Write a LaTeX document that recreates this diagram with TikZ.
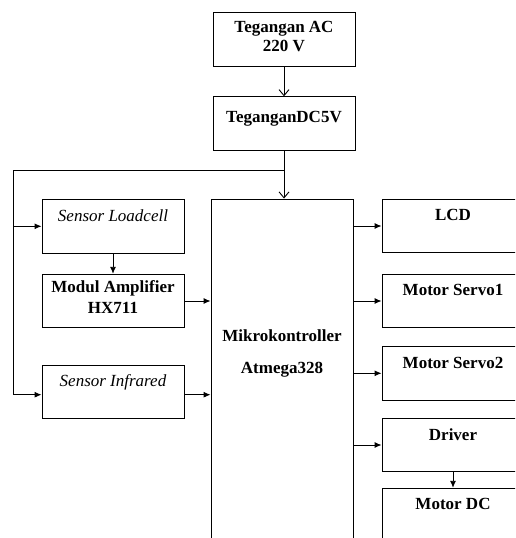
\documentclass[tikz,border=0pt]{standalone}
\usepackage{fontspec}
\setmainfont{Liberation Serif}
\usetikzlibrary{arrows.meta, positioning, calc}
\begin{document}
\begin{tikzpicture}[x=1pt, y=-1pt,
        blok/.style={draw, line width=0.9pt, minimum width=142pt,
            minimum height=53.5pt, inner sep=0pt},
        isi/.style={anchor=north, yshift=-10.5pt, inner sep=0pt, align=center,
            font=\fontsize{17}{18.5}\selectfont\bfseries},
        miring/.style={isi, font=\fontsize{17}{18.5}\selectfont\itshape},
        panah/.style={-{Latex[length=7pt,width=6pt]}, line width=0.9pt},
        buka/.style={-{Straight Barb[length=6pt,width=10pt]}, line width=0.9pt},
    ]
        \useasboundingbox (0,0) rectangle (515,538);
        \clip (0,0) rectangle (515,538);

        % Catu daya
        \node[blok, label={[isi, yshift=1.5pt]north:Tegangan AC\\220 V}] (ac) at (284, 39.5) {};
        \node[blok, label={[isi, yshift=-4pt]north:TeganganDC5V}] (dc) at (284, 123.5) {};

        % Masukan
        \node[blok, label={[miring]north:Sensor Loadcell}] (loadcell) at (113, 226.3) {};
        \node[blok, label={[isi, yshift=3.5pt, font=\fontsize{17}{21}\selectfont\bfseries]north:Modul Amplifier\\HX711}] (modul) at (113, 301) {};
        \node[blok, label={[miring, yshift=1pt]north:Sensor Infrared}] (infrared) at (113, 391.7) {};

        % Pengendali
        \node[blok, minimum height=361pt,
            label={[isi, yshift=-120pt, font=\fontsize{17}{32}\selectfont\bfseries]north:Mikrokontroller\\Atmega328}] (mikro) at (282, 379.5) {};

        % Keluaran
        \node[blok, label={[isi]north:LCD}] (lcd) at (453, 226) {};
        \node[blok, label={[isi]north:Motor Servo1}] (servo1) at (453, 301) {};
        \node[blok, label={[isi]north:Motor Servo2}] (servo2) at (453, 373.3) {};
        \node[blok, label={[isi]north:Driver}] (driver) at (453, 445) {};
        \node[blok, label={[isi]north:Motor DC}] (motordc) at (453, 515) {};

        % Jalur daya
        \coordinate (cabang) at (284, 170);
        \coordinate (kiri) at (13.5, 170);
        \coordinate (irkiri) at ([yshift=-3pt]infrared.west);
        \coordinate (irkanan) at ([yshift=-3pt]infrared.east);
        \draw[buka] (ac) -- (dc);
        \draw[buka] (dc.south) -- (dc.south |- mikro.north);
        \draw[line width=0.9pt] (cabang) -- (kiri);
        \draw[panah] (kiri) |- (irkiri);
        \draw[panah] (kiri |- loadcell.west) -- (loadcell.west);

        % Jalur sinyal
        \draw[panah] (loadcell) -- (modul);
        \draw[panah] (modul.east) -- (mikro.west |- modul.east);
        \draw[panah] (irkanan) -- (mikro.west |- irkanan);
        \foreach \keluar in {lcd, servo1, servo2, driver}
            \draw[panah] (mikro.east |- \keluar.west) -- (\keluar.west);
        \draw[panah] (driver) -- (motordc);
    \end{tikzpicture}
\end{document}
